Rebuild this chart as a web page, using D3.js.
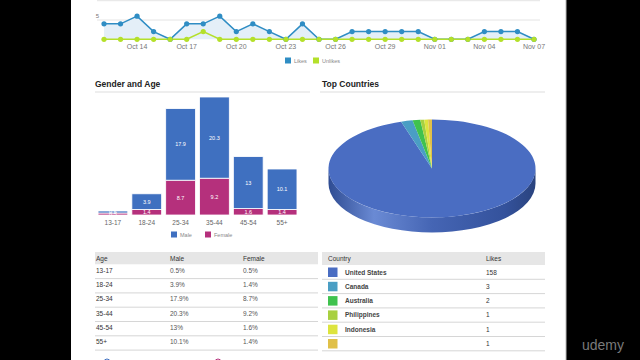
<!DOCTYPE html>
<html><head><meta charset="utf-8">
<script src="https://cdn.jsdelivr.net/npm/d3@7/dist/d3.min.js"></script>
<style>
html,body{margin:0;padding:0;background:#000;}
svg{display:block;font-family:"Liberation Sans",Arial,sans-serif;}
</style></head>
<body>
<svg id="c" width="640" height="360"></svg>
<script>
// ---- data ----
const days = ["Oct 12","Oct 13","Oct 14","Oct 15","Oct 16","Oct 17","Oct 18","Oct 19","Oct 20","Oct 21","Oct 22","Oct 23","Oct 24","Oct 25","Oct 26","Oct 27","Oct 28","Oct 29","Oct 30","Oct 31","Nov 01","Nov 02","Nov 03","Nov 04","Nov 05","Nov 06","Nov 07"];
const likes   = [4,4,6,2,0,4,4,6,2,4,2,0,4,0,0,2,2,2,2,2,0,0,0,2,2,2,0];
const unlikes = [0,0,0,0,0,0,2,0,0,0,0,0,0,0,0,0,0,0,0,0,0,0,0,0,0,0,0];
const dayTicks = ["Oct 14","Oct 17","Oct 20","Oct 23","Oct 26","Oct 29","Nov 01","Nov 04","Nov 07"];
const yTicks = [5,10];
const lineLegend = ["Likes","Unlikes"];

const ageGroups = ["13-17","18-24","25-34","35-44","45-54","55+"];
const male   = [0.5,3.9,17.9,20.3,13,10.1];
const female = [0.5,1.4,8.7,9.2,1.6,1.4];
const genderLegend = ["Male","Female"];

const countries = ["United States","Canada","Australia","Philippines","Indonesia",""];
const countryLikes = [158,3,2,1,1,1];

// ---- styles ----
const C = {likes:"#2f8dc4", unlikes:"#b4e02a", area:"#e4eff8", male:"#3f70c0", female:"#b5307c",
  pie:["#4a6dc2","#4a9ec4","#3fc24e","#a8d040","#dde43e","#e0c048"]};

const svg = d3.select("#c");
svg.append("rect").attr("x",71).attr("y",0).attr("width",495).attr("height",360).attr("fill","#fff");
svg.append("line").attr("x1",566).attr("x2",566).attr("y1",0).attr("y2",360).attr("stroke","#bbb");

// ---- line chart ----
const x = d3.scalePoint().domain(days).range([104,534]);
const y = d3.scaleLinear().domain([0,10]).range([39.3,0.7]);
const g1 = svg.append("g");
yTicks.forEach(t=>{
  g1.append("line").attr("x1",97).attr("x2",540).attr("y1",y(t)).attr("y2",y(t)).attr("stroke","#e4e4e4");
  g1.append("text").attr("x",99).attr("y",y(t)-2).attr("font-size",6).attr("fill","#777").attr("text-anchor","end").text(t);
});
g1.append("path").datum(likes)
  .attr("d", d3.area().x((d,i)=>x(days[i])).y0(y(0)).y1(d=>y(d)))
  .attr("fill",C.area);
const line = d3.line().x((d,i)=>x(days[i])).y(d=>y(d));
g1.append("path").datum(likes).attr("d",line).attr("fill","none").attr("stroke",C.likes).attr("stroke-width",1.5);
g1.append("path").datum(unlikes).attr("d",line).attr("fill","none").attr("stroke",C.unlikes).attr("stroke-width",1.5);
g1.selectAll(".pl").data(likes).join("circle").attr("cx",(d,i)=>x(days[i])).attr("cy",d=>y(d)).attr("r",2.6).attr("fill",C.likes);
g1.selectAll(".pu").data(unlikes).join("circle").attr("cx",(d,i)=>x(days[i])).attr("cy",d=>y(d)).attr("r",2.6).attr("fill",C.unlikes);
dayTicks.forEach(t=>{
  g1.append("text").attr("x",x(t)).attr("y",49).attr("font-size",7).attr("fill","#777").attr("text-anchor","middle").text(t);
});
const lx=[285,313];
lineLegend.forEach((t,i)=>{
  g1.append("rect").attr("x",lx[i]).attr("y",57.5).attr("width",6).attr("height",6).attr("fill",i?C.unlikes:C.likes);
  g1.append("text").attr("x",lx[i]+9).attr("y",63).attr("font-size",5.5).attr("fill","#888").text(t);
});

// ---- section titles ----
svg.append("text").attr("x",95).attr("y",87).attr("font-size",8.5).attr("font-weight","bold").attr("fill","#222").text("Gender and Age");
svg.append("line").attr("x1",95).attr("x2",310).attr("y1",92).attr("y2",92).attr("stroke","#ddd");
svg.append("text").attr("x",322).attr("y",87).attr("font-size",8.5).attr("font-weight","bold").attr("fill","#222").text("Top Countries");
svg.append("line").attr("x1",320).attr("x2",545).attr("y1",92).attr("y2",92).attr("stroke","#ddd");

// ---- bar chart ----
const xb = d3.scaleBand().domain(ageGroups).range([96,299]).paddingInner(0.12).paddingOuter(0.06);
const yb = d3.scaleLinear().domain([0,30]).range([215,95]);
const g2 = svg.append("g");
ageGroups.forEach((a,i)=>{
  const bx = xb(a), bw = xb.bandwidth();
  g2.append("rect").attr("x",bx).attr("y",yb(female[i])).attr("width",bw).attr("height",yb(0)-yb(female[i]))
    .attr("fill",C.female).attr("stroke","#fff").attr("stroke-width",0.8);
  g2.append("rect").attr("x",bx).attr("y",yb(female[i]+male[i])).attr("width",bw).attr("height",yb(female[i])-yb(female[i]+male[i]))
    .attr("fill",C.male).attr("stroke","#fff").attr("stroke-width",0.8);
  g2.append("text").attr("x",bx+bw/2).attr("y",(yb(female[i])+yb(female[i]+male[i]))/2+2).attr("font-size",5.5)
    .attr("fill","#fff").attr("text-anchor","middle").text(male[i]);
  g2.append("text").attr("x",bx+bw/2).attr("y",(yb(0)+yb(female[i]))/2+2).attr("font-size",5.5)
    .attr("fill","#fff").attr("text-anchor","middle").text(female[i]);
  g2.append("text").attr("x",bx+bw/2).attr("y",225).attr("font-size",6.5).attr("fill","#666").attr("text-anchor","middle").text(a);
});
const gx=[171,205];
genderLegend.forEach((t,i)=>{
  g2.append("rect").attr("x",gx[i]).attr("y",231.5).attr("width",6).attr("height",6).attr("fill",i?C.female:C.male);
  g2.append("text").attr("x",gx[i]+9).attr("y",237).attr("font-size",5.5).attr("fill","#888").text(t);
});

// ---- 3D pie ----
const cx=432, cy=168.5, rx=103.5, ry=49, depth=15;
const defs = svg.append("defs");
const grad = defs.append("linearGradient").attr("id","side").attr("x1","0").attr("x2","1").attr("y1","0").attr("y2","0");
[[0,"#2f4c92"],[0.22,"#6a8ad4"],[0.5,"#4565b4"],[0.85,"#34529c"],[1,"#2a437e"]].forEach(s=>grad.append("stop").attr("offset",s[0]).attr("stop-color",s[1]));
const pie = d3.pie().sort(null).value(d=>d)(countryLikes);
const P = (a,dy=0)=>[cx+rx*Math.sin(a), cy-ry*Math.cos(a)+dy];
const g3 = svg.append("g");
pie.forEach((s,i)=>{
  const a0=Math.max(s.startAngle,Math.PI/2), a1=Math.min(s.endAngle,3*Math.PI/2);
  if(a1<=a0) return;
  const p0=P(a0), p1=P(a1), q1=P(a1,depth), q0=P(a0,depth);
  const d=`M${p0}A${rx},${ry} 0 0 1 ${p1}L${q1}A${rx},${ry} 0 0 0 ${q0}Z`;
  g3.append("path").attr("d",d).attr("fill",i===0?"url(#side)":d3.color(C.pie[i]).darker(0.8));
});
pie.forEach((s,i)=>{
  const p0=P(s.startAngle), p1=P(s.endAngle);
  const large=(s.endAngle-s.startAngle)>Math.PI?1:0;
  g3.append("path").attr("d",`M${cx},${cy}L${p0}A${rx},${ry} 0 ${large} 1 ${p1}Z`).attr("fill",C.pie[i]);
});

// ---- tables ----
const g4 = svg.append("g").attr("font-size",6.5).attr("fill","#333");
const rowH=14.3, tableTop=264.3;
g4.append("rect").attr("x",95).attr("y",252).attr("width",223).attr("height",12.3).attr("fill","#e6e6e6");
[["Age",96],["Male",170],["Female",243]].forEach(h=>g4.append("text").attr("x",h[1]).attr("y",260.5).text(h[0]));
ageGroups.forEach((a,i)=>{
  const ry0 = tableTop+i*rowH;
  g4.append("text").attr("x",96).attr("y",ry0+8.5).text(a);
  g4.append("text").attr("x",170).attr("y",ry0+8.5).attr("fill","#555").text(male[i]+"%");
  g4.append("text").attr("x",243).attr("y",ry0+8.5).attr("fill","#555").text(female[i]+"%");
  g4.append("line").attr("x1",95).attr("x2",318).attr("y1",ry0+rowH).attr("y2",ry0+rowH).attr("stroke","#ccc").attr("stroke-width",0.8);
});
g4.append("rect").attr("x",322).attr("y",252).attr("width",223).attr("height",13).attr("fill","#e6e6e6");
[["Country",328],["Likes",486]].forEach(h=>g4.append("text").attr("x",h[1]).attr("y",261).text(h[0]));
countries.forEach((c,i)=>{
  const ry0 = 265+i*14.3;
  g4.append("rect").attr("x",328).attr("y",ry0+2.5).attr("width",9.5).attr("height",9.5).attr("fill",C.pie[i]);
  g4.append("text").attr("x",345).attr("y",ry0+9.5).attr("font-weight","bold").attr("fill","#444").text(c);
  g4.append("text").attr("x",486).attr("y",ry0+9.5).text(countryLikes[i]);
  g4.append("line").attr("x1",322).attr("x2",545).attr("y1",ry0+14.3).attr("y2",ry0+14.3).attr("stroke","#ccc").attr("stroke-width",0.8);
});
svg.append("circle").attr("cx",107).attr("cy",362).attr("r",3).attr("fill","none").attr("stroke",C.male);
svg.append("circle").attr("cx",218).attr("cy",362).attr("r",3).attr("fill","none").attr("stroke",C.female);

svg.append("text").attr("x",603).attr("y",350).attr("font-size",14).attr("fill","#7a7a7a").attr("text-anchor","middle").text("udemy");
</script>
</body></html>
